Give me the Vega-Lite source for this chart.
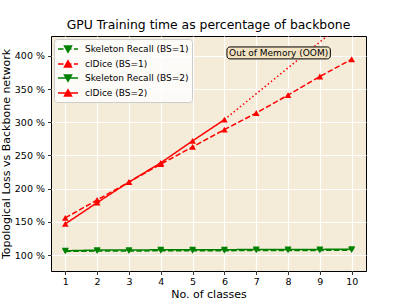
{
  "$schema": "https://vega.github.io/schema/vega-lite/v6.json",
  "width": 315,
  "height": 235,
  "autosize": "none",
  "padding": {"left": 51, "top": 36, "right": 41, "bottom": 34},
  "background": "white",
  "title": {"text": "GPU Training time as percentage of backbone", "fontSize": 12.4, "fontWeight": "normal", "font": "DejaVu Sans", "color": "black", "offset": 5},
  "datasets": {
    "main": [
      {"series": "Skeleton Recall (BS=1)", "classes": 1, "pct": 105.5},
      {"series": "Skeleton Recall (BS=1)", "classes": 2, "pct": 106},
      {"series": "Skeleton Recall (BS=1)", "classes": 3, "pct": 106},
      {"series": "Skeleton Recall (BS=1)", "classes": 4, "pct": 106.5},
      {"series": "Skeleton Recall (BS=1)", "classes": 5, "pct": 106.5},
      {"series": "Skeleton Recall (BS=1)", "classes": 6, "pct": 106.5},
      {"series": "Skeleton Recall (BS=1)", "classes": 7, "pct": 107},
      {"series": "Skeleton Recall (BS=1)", "classes": 8, "pct": 107},
      {"series": "Skeleton Recall (BS=1)", "classes": 9, "pct": 107},
      {"series": "Skeleton Recall (BS=1)", "classes": 10, "pct": 107.5},
      {"series": "clDice (BS=1)", "classes": 1, "pct": 156},
      {"series": "clDice (BS=1)", "classes": 2, "pct": 183},
      {"series": "clDice (BS=1)", "classes": 3, "pct": 210},
      {"series": "clDice (BS=1)", "classes": 4, "pct": 237},
      {"series": "clDice (BS=1)", "classes": 5, "pct": 263},
      {"series": "clDice (BS=1)", "classes": 6, "pct": 289},
      {"series": "clDice (BS=1)", "classes": 7, "pct": 314},
      {"series": "clDice (BS=1)", "classes": 8, "pct": 341},
      {"series": "clDice (BS=1)", "classes": 9, "pct": 369},
      {"series": "clDice (BS=1)", "classes": 10, "pct": 395},
      {"series": "Skeleton Recall (BS=2)", "classes": 1, "pct": 106.5},
      {"series": "Skeleton Recall (BS=2)", "classes": 2, "pct": 107.5},
      {"series": "Skeleton Recall (BS=2)", "classes": 3, "pct": 107.5},
      {"series": "Skeleton Recall (BS=2)", "classes": 4, "pct": 108},
      {"series": "Skeleton Recall (BS=2)", "classes": 5, "pct": 108},
      {"series": "Skeleton Recall (BS=2)", "classes": 6, "pct": 108},
      {"series": "Skeleton Recall (BS=2)", "classes": 7, "pct": 108.5},
      {"series": "Skeleton Recall (BS=2)", "classes": 8, "pct": 108.5},
      {"series": "Skeleton Recall (BS=2)", "classes": 9, "pct": 108.5},
      {"series": "Skeleton Recall (BS=2)", "classes": 10, "pct": 109},
      {"series": "clDice (BS=2)", "classes": 1, "pct": 147},
      {"series": "clDice (BS=2)", "classes": 2, "pct": 179},
      {"series": "clDice (BS=2)", "classes": 3, "pct": 210},
      {"series": "clDice (BS=2)", "classes": 4, "pct": 239},
      {"series": "clDice (BS=2)", "classes": 5, "pct": 272},
      {"series": "clDice (BS=2)", "classes": 6, "pct": 304}
    ],
    "oom": [
      {"classes": 6, "pct": 304},
      {"classes": 10, "pct": 460}
    ],
    "note": [
      {"x0": 6.08, "x1": 9.33, "y0": 395.5, "y1": 413.5, "xc": 7.705, "yc": 404.5, "label": "Out of Memory (OOM)"}
    ]
  },
  "config": {
    "view": {"fill": "#f4ecd8", "stroke": "black", "strokeWidth": 1},
    "axis": {
      "domain": false, "tickColor": "black", "tickSize": 3.5, "tickWidth": 0.8,
      "labelFont": "DejaVu Sans", "labelFontSize": 9.5, "labelColor": "black",
      "titleFont": "DejaVu Sans", "titleFontSize": 11, "titleFontWeight": "normal", "titleColor": "black",
      "grid": true, "gridColor": "white", "gridWidth": 1.2
    }
  },
  "encoding": {
    "x": {"field": "classes", "type": "quantitative", "scale": {"domain": [0.55, 10.45], "nice": false, "zero": false},
      "axis": {"values": [1,2,3,4,5,6,7,8,9,10], "title": "No. of classes", "labelPadding": 2, "titlePadding": 2, "labelFlush": false}},
    "y": {"field": "pct", "type": "quantitative", "scale": {"domain": [76, 430], "nice": false, "zero": false},
      "axis": {"values": [100,150,200,250,300,350,400], "labelExpr": "datum.value + ' %'", "title": "Topological Loss vs Backbone network", "labelPadding": 3, "titlePadding": 3}}
  },
  "layer": [
    {
      "data": {"name": "oom"},
      "mark": {"type": "line", "color": "#ff0000", "strokeWidth": 1.5, "strokeDash": [1.5, 2.5], "clip": true}
    },
    {
      "data": {"name": "main"},
      "mark": {"type": "line", "strokeWidth": 1.5, "clip": true},
      "encoding": {
        "color": {"field": "series", "type": "nominal", "scale": {"domain": ["Skeleton Recall (BS=1)", "Skeleton Recall (BS=2)", "clDice (BS=1)", "clDice (BS=2)"], "range": ["#008000", "#008000", "#ff0000", "#ff0000"]}, "legend": null},
        "strokeDash": {"field": "series", "type": "nominal", "scale": {"domain": ["Skeleton Recall (BS=1)", "Skeleton Recall (BS=2)", "clDice (BS=1)", "clDice (BS=2)"], "range": [[5.5, 2.4], [1, 0], [5.5, 2.4], [1, 0]]}, "legend": null}
      }
    },
    {
      "data": {"name": "main"},
      "transform": [{"filter": "indexof(datum.series, 'Skeleton') >= 0"}],
      "mark": {"type": "point", "shape": "triangle-down", "filled": true, "opacity": 1, "size": 45},
      "encoding": {
        "color": {"field": "series", "type": "nominal", "legend": null}
      }
    },
    {
      "data": {"name": "main"},
      "transform": [{"filter": "indexof(datum.series, 'clDice') >= 0"}],
      "mark": {"type": "point", "shape": "triangle-up", "filled": true, "opacity": 1, "size": 45},
      "encoding": {
        "color": {"field": "series", "type": "nominal", "legend": null}
      }
    },
    {
      "data": {"name": "note"},
      "mark": {"type": "rect", "fill": "#f3e3c2", "stroke": "black", "strokeWidth": 1, "cornerRadius": 3},
      "encoding": {
        "x": {"field": "x0", "type": "quantitative"},
        "x2": {"field": "x1"},
        "y": {"field": "y0", "type": "quantitative"},
        "y2": {"field": "y1"}
      }
    },
    {
      "data": {"name": "note"},
      "mark": {"type": "text", "font": "DejaVu Sans", "fontSize": 9, "color": "black", "align": "center", "baseline": "middle"},
      "encoding": {
        "x": {"field": "xc", "type": "quantitative"},
        "y": {"field": "yc", "type": "quantitative"},
        "text": {"field": "label"}
      }
    },
    {
      "data": {"name": "main"},
      "transform": [{"filter": "false"}],
      "mark": {"type": "point", "filled": true, "strokeWidth": 1.5, "opacity": 1},
      "encoding": {
        "fill": {"field": "series", "type": "nominal", "scale": {"domain": ["Skeleton Recall (BS=1)", "clDice (BS=1)", "Skeleton Recall (BS=2)", "clDice (BS=2)"], "range": ["#008000", "#ff0000", "#008000", "#ff0000"]},
          "legend": {"title": null, "orient": "top-left", "offset": 3, "padding": 3, "fillColor": "#ffffffcc", "strokeColor": "#cccccc", "cornerRadius": 3, "labelFont": "DejaVu Sans", "labelFontSize": 9, "labelColor": "black", "labelOffset": 10, "symbolOffset": 4, "symbolSize": 144, "symbolStrokeWidth": 1.5, "rowPadding": 1}},
        "stroke": {"field": "series", "type": "nominal", "scale": {"domain": ["Skeleton Recall (BS=1)", "clDice (BS=1)", "Skeleton Recall (BS=2)", "clDice (BS=2)"], "range": ["#008000", "#ff0000", "#008000", "#ff0000"]}},
        "shape": {"field": "series", "type": "nominal", "scale": {"domain": ["Skeleton Recall (BS=1)", "clDice (BS=1)", "Skeleton Recall (BS=2)", "clDice (BS=2)"], "range": [
          "M-1.67,0H-0.74M-0.34,0H0.58M0.98,0H1.67M-0.58,-0.5L0.58,-0.5L0,0.53Z",
          "M-1.67,0H-0.74M-0.34,0H0.58M0.98,0H1.67M0,-0.53L0.58,0.5L-0.58,0.5Z",
          "M-1.67,0H1.67M-0.58,-0.5L0.58,-0.5L0,0.53Z",
          "M-1.67,0H1.67M0,-0.53L0.58,0.5L-0.58,0.5Z"
        ]}}
      }
    }
  ]
}
